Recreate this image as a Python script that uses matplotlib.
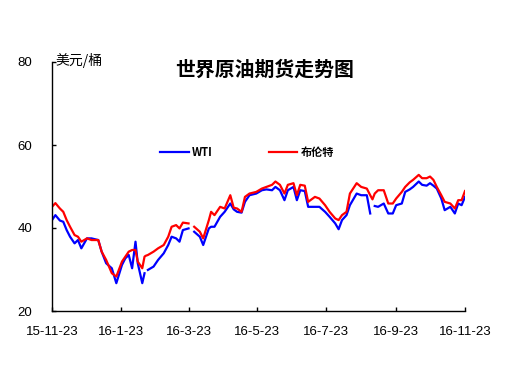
import numpy as np
import pandas as pd
import matplotlib
matplotlib.use("Agg")
import matplotlib.pyplot as plt

plt.rcParams['font.family'] = ['Liberation Sans', 'Noto Sans CJK SC', 'DejaVu Sans']

# values (US$/barrel)
dates = ["2015-11-23", "2015-11-26", "2015-11-30", "2015-12-03", "2015-12-06", "2015-12-09",
         "2015-12-13", "2015-12-16", "2015-12-19", "2015-12-24", "2015-12-28", "2016-01-03",
         "2016-01-06", "2016-01-10", "2016-01-15", "2016-01-19", "2016-01-24", "2016-01-27",
         "2016-01-30", "2016-02-02", "2016-02-05", "2016-02-07", "2016-02-11", "2016-02-13",
         "2016-02-14", "2016-02-16", "2016-02-21", "2016-02-25", "2016-03-01", "2016-03-05",
         "2016-03-08", "2016-03-12", "2016-03-15", "2016-03-18", "2016-03-23", "2016-03-25",
         "2016-03-28", "2016-04-02", "2016-04-05", "2016-04-10", "2016-04-12", "2016-04-15",
         "2016-04-20", "2016-04-24", "2016-04-29", "2016-05-02", "2016-05-05", "2016-05-09",
         "2016-05-12", "2016-05-16", "2016-05-22", "2016-05-27", "2016-05-31", "2016-06-05",
         "2016-06-08", "2016-06-12", "2016-06-16", "2016-06-19", "2016-06-24", "2016-06-27",
         "2016-06-30", "2016-07-04", "2016-07-07", "2016-07-13", "2016-07-17", "2016-07-22",
         "2016-07-26", "2016-07-31", "2016-08-03", "2016-08-06", "2016-08-10", "2016-08-13",
         "2016-08-19", "2016-08-23", "2016-08-28", "2016-08-31", "2016-09-02", "2016-09-04",
         "2016-09-07", "2016-09-12", "2016-09-16", "2016-09-20", "2016-09-23", "2016-09-28",
         "2016-10-01", "2016-10-05", "2016-10-08", "2016-10-13", "2016-10-16", "2016-10-20",
         "2016-10-23", "2016-10-26", "2016-10-29", "2016-11-02", "2016-11-05", "2016-11-10",
         "2016-11-14", "2016-11-17", "2016-11-20", "2016-11-23"]

wti = [41.9, 43.1, 41.8, 41.5, 39.5, 37.9,
       36.3, 37.1, 35.1, 37.5, 37.5, 37.1,
       34.3, 31.5, 30.3, 26.7, 31.1, 32.7,
       33.5, 30.3, 36.7, 31.5, 26.7, 29.1,
       np.nan, 29.9, 30.7, 32.3, 33.9, 35.9,
       37.9, 37.5, 36.7, 39.5, 39.9, np.nan,
       39.1, 37.9, 35.9, 39.9, 40.3, 40.3,
       42.7, 43.9, 45.9, 44.5, 43.9, 43.7,
       46.3, 47.9, 48.3, 49.1, 49.3, 49.1,
       49.9, 49.1, 46.7, 49.1, 49.9, 46.7,
       49.1, 48.9, 45.1, 45.1, 45.1, 43.9,
       42.7, 41.1, 39.7, 41.9, 43.1, 45.5,
       48.3, 47.9, 47.9, 43.5, np.nan, 45.3,
       45.1, 45.9, 43.5, 43.5, 45.5, 45.9,
       48.7, 49.3, 49.9, 51.2, 50.4, 50.2,
       50.8, 50.2, 49.5, 47.1, 44.3, 45.1,
       43.5, 45.9, 45.5, 47.5]

brent = [45.1, 46.0, 44.7, 43.9, 41.9, 40.3,
         38.3, 37.9, 36.7, 37.5, 37.1, 37.1,
         34.3, 32.3, 29.1, 28.3, 31.9, 33.1,
         34.3, 34.7, 34.7, 31.9, 30.3, 33.1,
         33.3, 33.5, 34.3, 35.1, 35.9, 37.9,
         40.3, 40.7, 39.9, 41.3, 41.1, np.nan,
         40.3, 39.1, 37.5, 41.9, 43.9, 43.1,
         45.1, 44.7, 47.9, 44.9, 44.7, 43.9,
         47.5, 48.3, 48.7, 49.5, 49.9, 50.4,
         51.2, 50.4, 48.3, 50.4, 50.8, 47.9,
         50.4, 50.2, 46.3, 47.5, 47.1, 45.5,
         43.9, 42.3, 41.9, 43.1, 43.9, 48.3,
         50.8, 49.9, 49.5, 47.9, 46.9, 48.3,
         49.1, 49.1, 45.9, 45.9, 47.1, 48.7,
         49.9, 51.0, 51.6, 52.8, 52.0, 52.0,
         52.4, 51.6, 49.9, 47.9, 46.3, 45.9,
         44.7, 46.7, 46.7, 48.9]

xtick_dates = ["2015-11-23", "2016-01-23", "2016-03-23", "2016-05-23",
               "2016-07-23", "2016-09-23", "2016-11-23"]
xtick_labels = ["15-11-23", "16-1-23", "16-3-23", "16-5-23", "16-7-23", "16-9-23", "16-11-23"]
yticks = [20, 40, 60, 80]

x = pd.to_datetime(dates)
cjk = ["Noto Sans CJK SC", "DejaVu Sans"]

fig = plt.figure(figsize=(5.26, 3.78), dpi=100)
ax = fig.add_axes([52 / 526, 1 - 311 / 378, 413 / 526, 249 / 378])

ax.plot(x, wti, color="#0000ff", lw=1.6, label="WTI")
ax.plot(x, brent, color="#ff0000", lw=1.6, label="布伦特")

ax.set_xlim(pd.Timestamp(xtick_dates[0]), pd.Timestamp(xtick_dates[-1]))
ax.set_ylim(20, 80)
ax.set_yticks(yticks)
ax.set_xticks(pd.to_datetime(xtick_dates))
ax.set_xticklabels(xtick_labels)
ax.tick_params(direction="in", length=3, width=1, labelsize=9.5, colors="black")
ax.tick_params(axis="x", pad=11)
ax.tick_params(axis="y", pad=14)
for s in ["top", "right"]:
    ax.spines[s].set_visible(False)
for s in ["left", "bottom"]:
    ax.spines[s].set_linewidth(1)
    ax.spines[s].set_color("black")

fig.text(55 / 526, 1 - 61 / 378, "美元/桶", fontsize=10, va="center", ha="left", family=cjk)
fig.text(265 / 526, 1 - 69 / 378, "世界原油期货走势图", fontsize=14.3, fontweight="bold",
         ha="center", va="center", family=cjk)

fig.legend(loc="center left", bbox_to_anchor=(160 / 526, 1 - 152 / 378), ncol=2,
           frameon=False, handlelength=2.6, handletextpad=0.3,
           columnspacing=5.0, borderpad=0, borderaxespad=0,
           prop={"family": cjk, "weight": "bold", "size": 8})

fig.savefig("out.png", dpi=100)
